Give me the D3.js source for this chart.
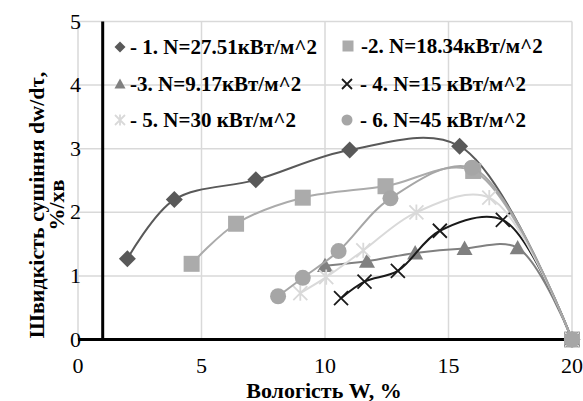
<!DOCTYPE html>
<html><head><meta charset="utf-8">
<script src="https://cdn.jsdelivr.net/npm/d3@7"></script>
</head><body style="margin:0">
<svg id="c" width="583" height="401" style="display:block;background:#fff"></svg>
<script>
const xTicks = [0, 5, 10, 15, 20];
const yTicks = [0, 1, 2, 3, 4, 5];
const xTitle = "Вологість W, %";
const yTitle1 = "Швидкість сушіння dw/dτ,";
const yTitle2 = "%/хв";
const legendLabels = ["- 1. N=27.51кВт/м^2", "-2. N=18.34кВт/м^2", "-3. N=9.17кВт/м^2",
  "- 4. N=15 кВт/м^2", "- 5. N=30 кВт/м^2", "- 6. N=45 кВт/м^2"];
const s1x = [2, 3.9, 7.2, 11, 15.45, 20];
const s1y = [1.27, 2.2, 2.51, 2.98, 3.04, 0];
const s2x = [4.6, 6.4, 9.1, 12.45, 16, 20];
const s2y = [1.19, 1.82, 2.23, 2.41, 2.65, 0];
const s3x = [10, 11.7, 13.65, 15.65, 17.8, 20];
const s3y = [1.16, 1.23, 1.36, 1.43, 1.44, 0];
const s4x = [10.65, 11.6, 12.95, 14.65, 17.2, 20];
const s4y = [0.65, 0.91, 1.08, 1.71, 1.88, 0];
const s5x = [9.0, 10.05, 11.55, 13.7, 16.65, 20];
const s5y = [0.73, 0.98, 1.4, 2.0, 2.23, 0];
const s6x = [8.1, 9.1, 10.55, 12.65, 15.95, 20];
const s6y = [0.68, 0.97, 1.39, 2.22, 2.7, 0];

const series = [
  {x: s1x, y: s1y, color: "#595959", marker: "diamond", label: legendLabels[0]},
  {x: s2x, y: s2y, color: "#ababab", marker: "square", label: legendLabels[1]},
  {x: s3x, y: s3y, color: "#808080", marker: "triangle", label: legendLabels[2]},
  {x: s4x, y: s4y, color: "#1a1a1a", marker: "x", label: legendLabels[3]},
  {x: s5x, y: s5y, color: "#d9d9d9", marker: "star", label: legendLabels[4]},
  {x: s6x, y: s6y, color: "#a6a6a6", marker: "circle", label: legendLabels[5]}
];

const svg = d3.select("#c");
const xS = d3.scaleLinear().domain([0, 20]).range([78, 572]);
const yS = d3.scaleLinear().domain([0, 5]).range([339.5, 21.5]);
const FF = '"Liberation Serif", "Times New Roman", Tinos, serif';

// gridlines
svg.append("g").selectAll("line").data(yTicks.slice(1)).join("line")
  .attr("x1", xS(0)).attr("x2", xS(20)).attr("y1", d => yS(d)).attr("y2", d => yS(d))
  .attr("stroke", "#d9d9d9").attr("stroke-width", 1.5);
svg.append("g").selectAll("line").data(xTicks).join("line")
  .attr("x1", d => xS(d)).attr("x2", d => xS(d)).attr("y1", yS(0)).attr("y2", yS(5))
  .attr("stroke", "#d9d9d9").attr("stroke-width", 1.5);

// axes (black lines)
svg.append("line").attr("x1", xS(0)).attr("x2", xS(20)).attr("y1", yS(0)).attr("y2", yS(0))
  .attr("stroke", "#000").attr("stroke-width", 3);
svg.append("line").attr("x1", xS(1)).attr("x2", xS(1)).attr("y1", yS(0)).attr("y2", yS(5))
  .attr("stroke", "#000").attr("stroke-width", 3);

// tick labels
svg.append("g").selectAll("text").data(yTicks).join("text")
  .attr("x", 81).attr("y", d => yS(d) + 7).attr("text-anchor", "end")
  .style("font-family", FF).style("font-size", "22px").text(d => d);
svg.append("g").selectAll("text").data(xTicks).join("text")
  .attr("x", d => xS(d)).attr("y", 372.5).attr("text-anchor", "middle")
  .style("font-family", FF).style("font-size", "22px").text(d => d);

// axis titles
svg.append("text").attr("x", 324).attr("y", 397.5).attr("text-anchor", "middle")
  .style("font-family", FF).style("font-size", "22px").style("font-weight", "bold").text(xTitle);
const yt = svg.append("g").attr("transform", "translate(0,205) rotate(-90)");
yt.append("text").attr("x", 0).attr("y", 44).attr("text-anchor", "middle")
  .style("font-family", FF).style("font-size", "22px").style("font-weight", "bold").text(yTitle1);
yt.append("text").attr("x", 0).attr("y", 64).attr("text-anchor", "middle")
  .style("font-family", FF).style("font-size", "22px").style("font-weight", "bold").text(yTitle2);

function drawMarker(g, type, color, cx, cy, s) {
  if (type === "diamond") {
    g.append("path").attr("d", `M${cx},${cy - s}L${cx + s},${cy}L${cx},${cy + s}L${cx - s},${cy}Z`).attr("fill", color);
  } else if (type === "square") {
    g.append("rect").attr("x", cx - s).attr("y", cy - s).attr("width", 2 * s).attr("height", 2 * s).attr("fill", color);
  } else if (type === "triangle") {
    g.append("path").attr("d", `M${cx},${cy - s}L${cx + s},${cy + s * 0.8}L${cx - s},${cy + s * 0.8}Z`).attr("fill", color);
  } else if (type === "circle") {
    g.append("circle").attr("cx", cx).attr("cy", cy).attr("r", s).attr("fill", color);
  } else if (type === "x") {
    g.append("path").attr("d", `M${cx - s},${cy - s}L${cx + s},${cy + s}M${cx - s},${cy + s}L${cx + s},${cy - s}`)
      .attr("stroke", color).attr("stroke-width", 1.8).attr("fill", "none");
  } else if (type === "star") {
    g.append("path").attr("d", `M${cx - s},${cy - s}L${cx + s},${cy + s}M${cx - s},${cy + s}L${cx + s},${cy - s}M${cx},${cy - s * 1.1}L${cx},${cy + s * 1.1}`)
      .attr("stroke", color).attr("stroke-width", 1.8).attr("fill", "none");
  }
}

const line = d3.line().x(d => xS(d[0])).y(d => yS(d[1])).curve(d3.curveCatmullRom.alpha(0.5));
const markerSize = {diamond: 8.5, square: 8, triangle: 8, circle: 8, x: 7, star: 7};
series.forEach(s => {
  const pts = s.x.map((v, i) => [v, s.y[i]]);
  const g = svg.append("g");
  g.append("path").attr("d", line(pts)).attr("fill", "none").attr("stroke", s.color).attr("stroke-width", 2);
  pts.forEach(p => drawMarker(g, s.marker, s.color, xS(p[0]), yS(p[1]), markerSize[s.marker]));
});

// legend
const legPos = [[120, 47], [348, 46], [120, 84], [347, 84], [120, 120], [347, 120]];
series.forEach((s, i) => {
  const [lx, ly] = legPos[i];
  const g = svg.append("g");
  drawMarker(g, s.marker, s.color, lx, ly, s.marker === "x" || s.marker === "star" ? 5 : 5.5);
  g.append("text").attr("x", lx + (i % 2 ? 13 : 10)).attr("y", ly + 7)
    .style("font-family", FF).style("font-size", "21px").style("font-weight", "bold").text(s.label);
});
</script>
</body></html>
